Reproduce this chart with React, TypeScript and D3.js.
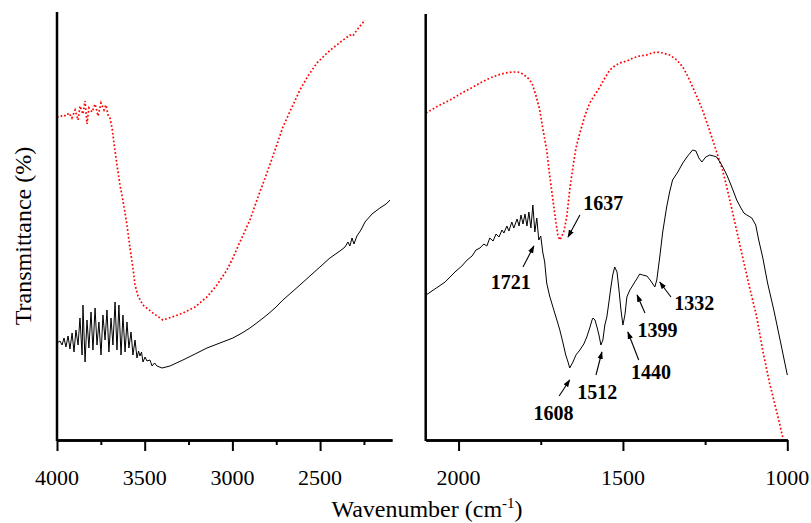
import React, { useEffect, useRef } from "react";
import * as d3 from "d3";

// spectra, [wavenumber, transmittance (arb. units)]
const leftRed: [number, number][] = [
  [4000, 323], [3983, 323], [3966, 325], [3949, 324], [3932, 327], [3915, 322], [3897, 330], [3880, 320],
  [3869, 334], [3852, 326], [3840, 339], [3829, 316], [3818, 332], [3800, 328], [3783, 336], [3766, 324],
  [3749, 337], [3732, 330], [3721, 335], [3709, 325], [3698, 322], [3686, 312], [3675, 297], [3658, 275],
  [3641, 255], [3630, 245], [3612, 227], [3601, 215], [3590, 200], [3578, 185], [3567, 172], [3555, 155],
  [3538, 144], [3510, 135], [3453, 127], [3396, 120], [3327, 124], [3282, 127], [3213, 133], [3145, 143],
  [3088, 155], [3031, 170], [2997, 182], [2957, 198], [2900, 220], [2854, 243], [2803, 267], [2757, 290],
  [2712, 313], [2660, 333], [2615, 350], [2569, 364], [2518, 377], [2472, 385], [2427, 392], [2376, 399],
  [2330, 405], [2313, 404], [2290, 410], [2267, 415], [2244, 420]
];

const leftBlack: [number, number][] = [
  [4000, 97], [3983, 99], [3971, 95], [3960, 102], [3949, 93], [3937, 104], [3926, 91], [3914, 107],
  [3903, 88], [3892, 110], [3880, 95], [3869, 122], [3857, 85], [3852, 135], [3840, 78], [3829, 120],
  [3818, 92], [3806, 128], [3795, 90], [3783, 132], [3772, 95], [3761, 118], [3749, 85], [3738, 125],
  [3726, 100], [3715, 130], [3704, 88], [3692, 122], [3681, 95], [3669, 138], [3658, 90], [3647, 135],
  [3635, 85], [3624, 125], [3612, 88], [3601, 118], [3590, 92], [3578, 108], [3567, 85], [3555, 100],
  [3544, 82], [3535, 89], [3527, 84], [3518, 88], [3510, 78], [3498, 83], [3487, 79], [3470, 80],
  [3458, 74], [3444, 77], [3430, 74], [3401, 72], [3356, 74], [3282, 80], [3213, 86], [3145, 92],
  [3071, 97], [2997, 102], [2945, 107], [2900, 112], [2854, 118], [2803, 125], [2757, 132], [2712, 140],
  [2660, 148], [2615, 155], [2558, 164], [2501, 173], [2444, 182], [2387, 189], [2358, 193], [2341, 198],
  [2330, 194], [2318, 202], [2307, 196], [2290, 204], [2267, 210], [2244, 218], [2204, 226], [2159, 232],
  [2124, 236], [2101, 240]
];

const rightRed: [number, number][] = [
  [2099, 327], [2063, 334], [2026, 340], [1990, 347], [1956, 353], [1929, 358], [1905, 362], [1880, 365],
  [1859, 367], [1835, 368], [1820, 368], [1804, 366], [1789, 362], [1777, 357], [1765, 345], [1753, 330],
  [1744, 312], [1732, 290], [1723, 265], [1713, 240], [1704, 218], [1698, 205], [1692, 200], [1686, 204],
  [1680, 208], [1671, 223], [1662, 250], [1652, 273], [1643, 292], [1631, 307], [1616, 324], [1601, 337],
  [1586, 345], [1570, 353], [1555, 362], [1540, 370], [1525, 374], [1510, 377], [1488, 379], [1470, 382],
  [1449, 384], [1428, 385], [1412, 387], [1397, 388], [1379, 387], [1358, 385], [1336, 380], [1318, 373],
  [1303, 364], [1288, 353], [1273, 342], [1258, 330], [1242, 315], [1227, 300], [1212, 285], [1197, 270],
  [1182, 250], [1166, 227], [1151, 205], [1136, 183], [1115, 153], [1093, 123], [1075, 90], [1054, 57],
  [1032, 28], [1014, 3]
];

const rightBlack: [number, number][] = [
  [2099, 145], [2072, 151], [2041, 158], [2011, 168], [1990, 174], [1974, 180], [1959, 184], [1947, 190],
  [1935, 192], [1923, 196], [1914, 194], [1905, 202], [1895, 199], [1886, 206], [1877, 203], [1868, 210],
  [1862, 207], [1853, 214], [1847, 209], [1838, 218], [1832, 212], [1822, 221], [1816, 214], [1810, 225],
  [1804, 216], [1798, 226], [1792, 214], [1786, 228], [1780, 212], [1774, 235], [1768, 208], [1762, 222],
  [1756, 200], [1750, 204], [1744, 188], [1738, 178], [1732, 157], [1723, 144], [1713, 133], [1701, 120],
  [1692, 110], [1683, 98], [1674, 85], [1667, 78], [1662, 72], [1652, 78], [1643, 85], [1631, 90],
  [1619, 96], [1610, 103], [1601, 112], [1594, 120], [1591, 122], [1585, 120], [1579, 113], [1573, 105],
  [1567, 95], [1561, 100], [1555, 115], [1549, 123], [1543, 137], [1537, 152], [1531, 165], [1525, 173],
  [1518, 168], [1512, 150], [1506, 130], [1500, 115], [1494, 125], [1488, 143], [1479, 150], [1473, 153],
  [1464, 158], [1458, 161], [1449, 166], [1440, 165], [1427, 164], [1415, 159], [1403, 153], [1397, 160],
  [1388, 183], [1379, 208], [1367, 233], [1358, 248], [1349, 260], [1333, 268], [1318, 277], [1303, 284],
  [1288, 290], [1278, 289], [1269, 282], [1260, 278], [1248, 283], [1236, 285], [1224, 284], [1215, 283],
  [1205, 278], [1196, 273], [1184, 265], [1175, 258], [1163, 248], [1154, 240], [1141, 232], [1132, 227],
  [1123, 225], [1108, 222], [1096, 215], [1087, 200], [1075, 183], [1060, 157], [1041, 130], [1020, 97],
  [1000, 65]
];

const leftMajor = [4000, 3500, 3000, 2500];
const leftMinor = [3750, 3250, 2750, 2250];
const rightMajor = [2000, 1500, 1000];
const rightMinor = [1750, 1250];

// peak labels: text anchor, arrow tail, arrow tip (in data units)
const peakLabels = ["1637", "1721", "1608", "1512", "1440", "1399", "1332"];
const peakText: [number, number][] = [[1560, 230], [1841, 151], [1711, 20], [1578, 41], [1415, 61], [1395, 103], [1283, 130]];
const peakTail: [number, number][] = [[1631, 225], [1804, 173], [1694, 44], [1582, 65], [1452, 80], [1433, 127], [1354, 143]];
const peakTip: [number, number][] = [[1667, 203], [1771, 194], [1662, 60], [1564, 88], [1485, 108], [1457, 145], [1388, 158]];

const font = "Liberation Serif, Times New Roman, serif";
const bottom = 440;

export default function App() {
  const lAxis = useRef<SVGGElement>(null);
  const lMinor = useRef<SVGGElement>(null);
  const rAxis = useRef<SVGGElement>(null);
  const rMinor = useRef<SVGGElement>(null);

  const xL = d3.scaleLinear().domain([4000, 2090]).range([57, 392]);
  const xR = d3.scaleLinear().domain([2100, 1000]).range([425.7, 787.3]);
  const yL = d3.scaleLinear().domain([0, 428]).range([bottom, 12]);
  const yR = d3.scaleLinear().domain([0, 426]).range([bottom, 14]);

  const lineL = d3.line<[number, number]>().x(d => xL(d[0])).y(d => yL(d[1]));
  const lineR = d3.line<[number, number]>().x(d => xR(d[0])).y(d => yR(d[1]));

  useEffect(() => {
    // tick marks only, labels are drawn as JSX below
    const style = (g: d3.Selection<SVGGElement, unknown, null, undefined>) => {
      g.select(".domain").attr("stroke", "#000").attr("stroke-width", 2.5);
      g.selectAll(".tick line").attr("stroke", "#000").attr("stroke-width", 2);
      g.selectAll(".tick text").remove();
    };
    const a1 = d3.select(lAxis.current!);
    a1.call(d3.axisBottom(xL).tickValues(leftMajor).tickSize(11).tickSizeOuter(0));
    style(a1);
    const a2 = d3.select(lMinor.current!);
    a2.call(d3.axisBottom(xL).tickValues(leftMinor).tickSize(5).tickSizeOuter(0));
    style(a2);
    const a3 = d3.select(rAxis.current!);
    a3.call(d3.axisBottom(xR).tickValues(rightMajor).tickSize(11).tickSizeOuter(0));
    style(a3);
    const a4 = d3.select(rMinor.current!);
    a4.call(d3.axisBottom(xR).tickValues(rightMinor).tickSize(5).tickSizeOuter(0));
    style(a4);
  }, []);

  return (
    <div>
      <style>{`body { margin: 0; }`}</style>
      <svg width={811} height={523} style={{ display: "block", background: "#fff" }}>
        <defs>
          <marker id="ah" viewBox="0 0 10 10" refX="9" refY="5" markerWidth="7" markerHeight="7" orient="auto">
            <path d="M0,1.5 L10,5 L0,8.5 z" fill="#000" />
          </marker>
        </defs>

        {/* left panel */}
        <path d={lineL(leftRed) || ""} fill="none" stroke="#ff0000" strokeWidth={1.7} strokeDasharray="1.7,2.2" />
        <path d={lineL(leftBlack) || ""} fill="none" stroke="#000" strokeWidth={1} />
        <line x1={57} x2={57} y1={12} y2={bottom + 1} stroke="#000" strokeWidth={2.5} />
        <g ref={lMinor} transform={`translate(0,${bottom})`} />
        <g ref={lAxis} transform={`translate(0,${bottom})`} />
        {leftMajor.map(t => (
          <text key={t} x={xL(t)} y={485} textAnchor="middle" fontFamily={font} fontSize={22}>{t}</text>
        ))}

        {/* right panel */}
        <path d={lineR(rightRed) || ""} fill="none" stroke="#ff0000" strokeWidth={1.7} strokeDasharray="1.7,2.2" />
        <path d={lineR(rightBlack) || ""} fill="none" stroke="#000" strokeWidth={1} />
        <line x1={425.7} x2={425.7} y1={14} y2={bottom + 1} stroke="#000" strokeWidth={2.5} />
        <g ref={rMinor} transform={`translate(0,${bottom})`} />
        <g ref={rAxis} transform={`translate(0,${bottom})`} />
        {rightMajor.map(t => (
          <text key={t} x={xR(t)} y={485} textAnchor="middle" fontFamily={font} fontSize={22}>{t}</text>
        ))}

        {peakLabels.map((lab, i) => (
          <g key={lab}>
            <line x1={xR(peakTail[i][0])} y1={yR(peakTail[i][1])} x2={xR(peakTip[i][0])} y2={yR(peakTip[i][1])}
              stroke="#000" strokeWidth={1.1} markerEnd="url(#ah)" />
            <text x={xR(peakText[i][0])} y={yR(peakText[i][1])} textAnchor="middle" fontFamily={font}
              fontWeight="bold" fontSize={20}>{lab}</text>
          </g>
        ))}

        <text x={427} y={517} textAnchor="middle" fontFamily={font} fontSize={24}>
          Wavenumber (cm<tspan fontSize={15} dy={-9}>-1</tspan><tspan dy={9}>)</tspan>
        </text>
        <text transform="translate(31,236) rotate(-90)" textAnchor="middle" fontFamily={font} fontSize={24}>
          Transmittance (%)
        </text>
      </svg>
    </div>
  );
}
